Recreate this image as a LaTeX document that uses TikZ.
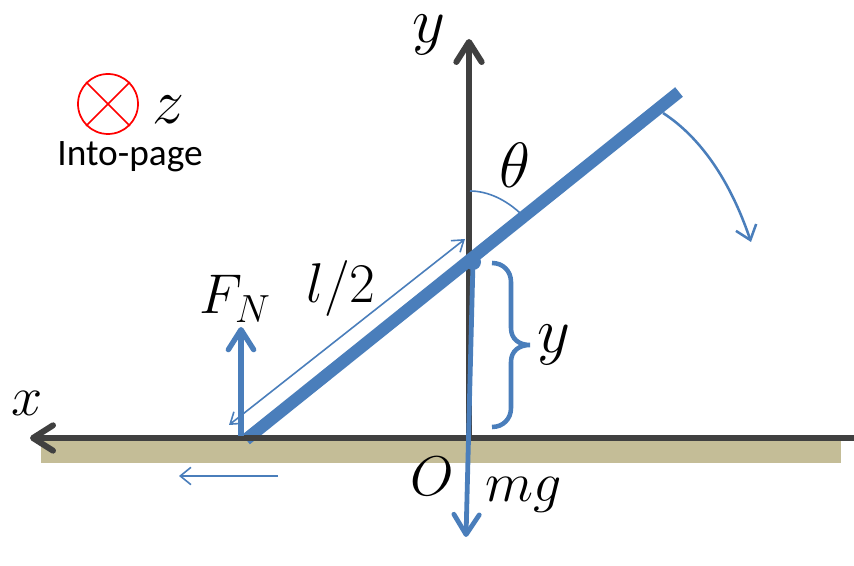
\documentclass[tikz,border=0pt]{standalone}
\usepackage{fix-cm}
\usepackage{fontspec}
\setsansfont{Carlito}
\usetikzlibrary{arrows.meta,positioning}

\definecolor{rodblue}{HTML}{4A7EBB}
\definecolor{axisgray}{HTML}{404040}
\definecolor{groundtan}{HTML}{C4BD97}

\begin{document}
\begin{tikzpicture}[
    x=0.75pt, y=-0.75pt,
    axisline/.style = {draw=axisgray, line width=4.5pt, -{Straight Barb[round,length=15pt,width=19pt]}},
    forceline/.style = {draw=rodblue, line width=4pt, -{Straight Barb[round,length=15pt,width=19pt]}},
    thinline/.style = {draw=rodblue, line width=1.2pt},
    lab/.style = {inner sep=0pt, font=\fontsize{42}{46}\selectfont},
    biglab/.style = {inner sep=0pt, font=\fontsize{48}{52}\selectfont}
  ]
  \useasboundingbox (0,0) rectangle (854,566);

  % ground and the two axes
  \node[fill=groundtan, minimum width=600pt, minimum height=16.5pt, inner sep=0pt, anchor=north west] (ground) at (41,441) {};
  \coordinate (origin) at (469,438);
  \coordinate (xend) at (854,438);
  \coordinate (xtip) at (30,438);
  \coordinate (ytip) at (469,39);
  \draw[axisline] (origin) -- (ytip);

  % the rod
  \coordinate (rodlow) at (246,439.5);
  \coordinate (rodhigh) at (679,92);
  \coordinate (center) at (473,262);
  \draw[draw=rodblue, line width=9.2pt] (rodlow) -- (rodhigh);
  \fill[rodblue] (center) circle (8);
  \draw[axisline] (xend) -- (xtip);

  % forces
  \coordinate (fnbase) at (241,436);
  \coordinate (fntip) at (241,327);
  \coordinate (mgtip) at (466,537);
  \draw[forceline] (fnbase) -- (fntip);
  \draw[forceline, line width=3.6pt] (center) -- (mgtip);

  % l/2 and the sliding arrow
  \coordinate (halflow) at (229,425);
  \coordinate (halfhigh) at (465,239);
  \coordinate (slidea) at (278,476);
  \coordinate (slideb) at (179,476);
  \draw[thinline, {Straight Barb[length=8pt,width=11pt]}-{Straight Barb[length=8pt,width=11pt]}] (halflow) -- (halfhigh);
  \draw[thinline, -{Straight Barb[length=8pt,width=13pt]}] (slidea) -- (slideb);

  % angle and rotation
  \coordinate (anga) at (470,191);
  \coordinate (angb) at (520,213);
  \coordinate (rota) at (663,113);
  \coordinate (rotb) at (751,242);
  \draw[thinline] (anga) .. controls (488,191) and (506,200) .. (angb);
  \draw[thinline, line width=1.9pt, -{Straight Barb[length=10pt,width=16pt]}] (rota) .. controls (700,137) and (730,180) .. (rotb);

  % brace for y
  \coordinate (bracetop) at (492,263);
  \coordinate (bracetip) at (530,345);
  \coordinate (bracelow) at (492,427);
  \draw[draw=rodblue, line width=3.4pt] (bracetop) .. controls (503,263) and (511,271) .. (511,282)
    -- (511,328) .. controls (511,339) and (519,345) .. (bracetip)
    .. controls (519,345) and (511,351) .. (511,362)
    -- (511,408) .. controls (511,419) and (503,427) .. (bracelow);

  % into-page mark
  \node[circle, draw=red, line width=1.3pt, minimum size=45pt, inner sep=0pt] (cross) at (108,104) {};
  \draw[red, line width=1.3pt] (cross.north west) -- (cross.south east);
  \draw[red, line width=1.3pt] (cross.north east) -- (cross.south west);
  \node[biglab] (zlab) at (168,110) {$z$};
  \node[inner sep=0pt, font=\sffamily\fontsize{28}{32}\selectfont] (pagelab) at (130,157) {Into-page};

  % labels
  \node[biglab] (ylab) at (429,35) {$y$};
  \node[biglab] (thetalab) at (515,165) {$\theta$};
  \node[lab] (fnlab) at (235,299) {$F_N$};
  \node[lab] (halflab) at (341,289) {$l/2$};
  \node[lab] (xlab) at (27,403) {$x$};
  \node[biglab] (ysidelab) at (554,345) {$y$};
  \node[lab] (olab) at (432,476) {$O$};
  \node[lab] (mglab) at (524,495) {$mg$};
\end{tikzpicture}
\end{document}
